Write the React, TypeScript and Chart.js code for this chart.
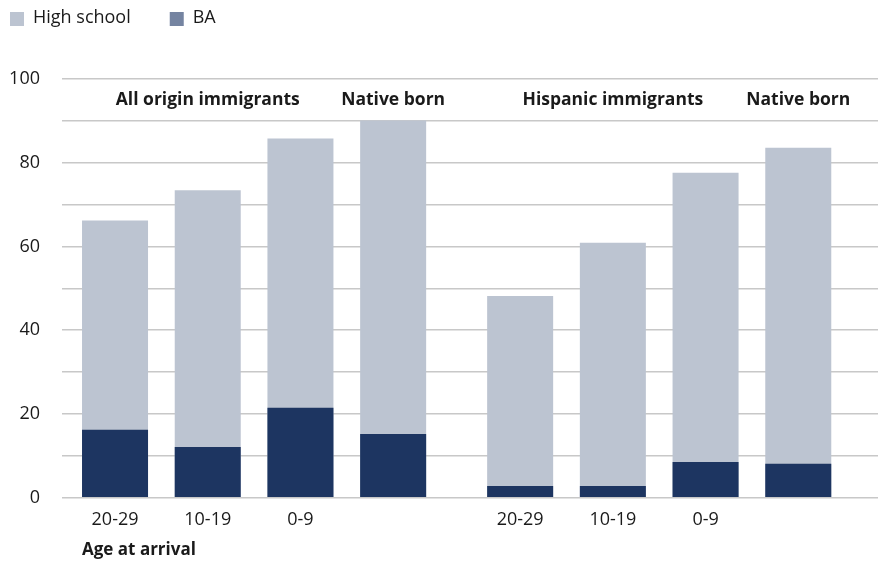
import { useEffect, useRef } from 'react';
import { Chart, registerables } from 'chart.js';
Chart.register(...registerables);

// ---- data ----
const xLabels = ['20-29', '10-19', '0-9', '', '20-29', '10-19', '0-9', ''];
const groupOf = [0, 0, 0, 0, 1, 1, 1, 1];
const highSchool = [66.2, 73.4, 85.8, 90.1, 48.2, 60.9, 77.6, 83.6];
const ba = [16.2, 12.1, 21.5, 15.2, 2.8, 2.8, 8.5, 8.1];
const headerLabels = ['All origin immigrants', 'Native born', 'Hispanic immigrants', 'Native born'];
const headerFirst = [0, 3, 4, 7];
const headerLast = [2, 3, 6, 7];
const legendLabels = ['High school', 'BA'];
const xAxisTitle = 'Age at arrival';

// ---- layout / style ----
const GROUP_GAP = 0.37;
const X_MIN = -0.572;
const X_MAX = 8.23;
const FONT = '"Open Sans", sans-serif';
const TEXT = '#1a1a1a';
const HS_COLOR = '#bcc4d1';
const BA_COLOR = '#1d3561';
const LEGEND_COLORS = ['#bcc4d1', '#7584a1'];
const GRID = '#c8c8c8';

export default function App() {
  const ref = useRef<HTMLCanvasElement>(null);
  useEffect(() => {
    document.body.style.margin = '0';
    const positions = xLabels.map((_, i) => i + groupOf[i] * GROUP_GAP);
    const decor = {
      id: 'decor',
      afterDraw(chart: any) {
        const ctx = chart.ctx;
        const xs = chart.scales.x;
        const ys = chart.scales.y;
        ctx.save();
        // group headers
        ctx.fillStyle = TEXT;
        ctx.font = `bold 17.5px ${FONT}`;
        ctx.textAlign = 'center';
        ctx.textBaseline = 'middle';
        const hy = ys.getPixelForValue(95);
        headerLabels.forEach((lab, k) => {
          const cx = (xs.getPixelForValue(positions[headerFirst[k]]) + xs.getPixelForValue(positions[headerLast[k]])) / 2;
          ctx.fillText(lab, cx, hy);
        });
        // axis title
        const bar0 = chart.getDatasetMeta(0).data[0];
        ctx.textAlign = 'left';
        ctx.font = `bold 17px ${FONT}`;
        ctx.fillText(xAxisTitle, bar0.x - bar0.width / 2, 550);
        // legend
        ctx.font = `18px ${FONT}`;
        let lx = 10;
        legendLabels.forEach((lab, k) => {
          ctx.fillStyle = LEGEND_COLORS[k];
          ctx.fillRect(lx, 12, 14, 14);
          ctx.fillStyle = TEXT;
          ctx.fillText(lab, lx + 23, 18);
          lx += 23 + ctx.measureText(lab).width + 39;
        });
        ctx.restore();
      },
    };
    const chart = new Chart(ref.current!, {
      type: 'bar',
      data: {
        datasets: [
          {
            label: legendLabels[0],
            data: positions.map((x, i) => ({ x, y: highSchool[i] })),
            backgroundColor: HS_COLOR,
            order: 2,
            grouped: false,
            categoryPercentage: 1,
            barPercentage: 0.712,
          } as any,
          {
            label: legendLabels[1],
            data: positions.map((x, i) => ({ x, y: ba[i] })),
            backgroundColor: BA_COLOR,
            order: 1,
            grouped: false,
            categoryPercentage: 1,
            barPercentage: 0.712,
          } as any,
        ],
      },
      options: {
        animation: false,
        responsive: false,
        maintainAspectRatio: false,
        layout: { padding: { top: 79, left: 0, right: 0, bottom: 0 } },
        plugins: { legend: { display: false }, tooltip: { enabled: false } },
        scales: {
          x: {
            type: 'linear',
            offset: false,
            min: X_MIN,
            max: X_MAX,
            grid: { display: false },
            border: { display: false },
            afterBuildTicks: (s: any) => {
              s.ticks = positions.map((v) => ({ value: v }));
            },
            afterFit: (s: any) => {
              s.height = 562 - 497.7;
            },
            ticks: {
              autoSkip: false,
              maxRotation: 0,
              padding: 3,
              color: TEXT,
              font: { family: FONT, size: 18 },
              callback: (_v: any, i: number) => xLabels[i],
            },
          },
          y: {
            min: 0,
            max: 100,
            grid: { color: GRID, lineWidth: 1.5, drawTicks: false },
            border: { display: false },
            afterFit: (s: any) => {
              s.width = 62;
            },
            ticks: {
              stepSize: 10,
              padding: 22,
              color: TEXT,
              font: { family: FONT, size: 18 },
              callback: (v: any) => (Number(v) % 20 === 0 ? String(v) : ''),
            },
          },
        },
      } as any,
      plugins: [decor],
    });
    return () => chart.destroy();
  }, []);
  return <canvas ref={ref} width={878} height={562} style={{ display: 'block' }} />;
}
